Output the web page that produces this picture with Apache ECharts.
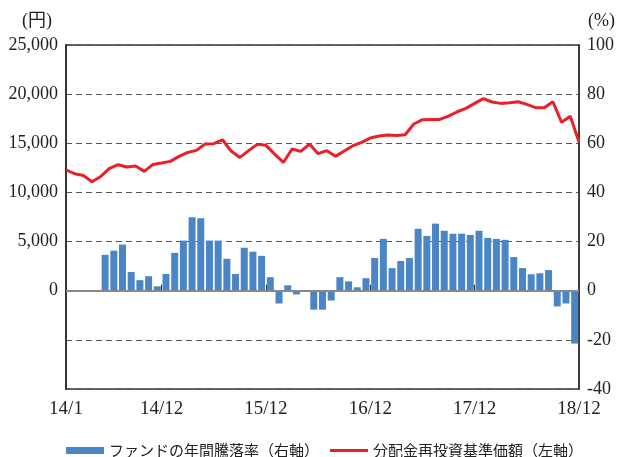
<!DOCTYPE html>
<html>
<head>
<meta charset="utf-8">
<script src="https://cdn.jsdelivr.net/npm/echarts@6/dist/echarts.min.js"></script>
<style>
html,body{margin:0;padding:0;background:#fff;}
#c{width:619px;height:457px;}
</style>
</head>
<body>
<div id="c"></div>
<script>
// Months 2014/1 .. 2018/12 (line axis categories)
const years = ['14','15','16','17','18'];
const months = [];
years.forEach(y => { for (let m = 1; m <= 12; m++) months.push(y + '/' + m); });
// Bar axis categories: 14/2 .. 18/12
const barMonths = months.slice(1);
// Tick labels shown on the x axis
const tickLabels = ['14/1', '14/12', '15/12', '16/12', '17/12', '18/12'];

// 分配金再投資基準価額 (円), 14/1 .. 18/12
const navValues = [
  12300, 11900, 11730, 11090, 11630, 12440, 12820, 12580, 12680, 12140, 12850, 12990,
  13160, 13670, 14070, 14280, 14920, 14960, 15360, 14210, 13560, 14250, 14890, 14790,
  13900, 13050, 14420, 14180, 14920, 13940, 14250, 13670, 14210, 14750, 15090, 15530,
  15740, 15840, 15800, 15870, 16960, 17400, 17430, 17430, 17770, 18210, 18550, 19060,
  19540, 19200, 19060, 19130, 19230, 18960, 18620, 18620, 19230, 17130, 17740, 15130
];

// ファンドの年間騰落率 (%), 14/6 .. 18/12
const fundReturn = [
  14.6, 16.3, 18.8, 7.6, 4.3, 5.9, 1.8, 6.8, 15.4, 20.4,
  29.9, 29.5, 20.4, 20.4, 13.0, 6.8, 17.5, 15.9, 14.2, 5.5,
  -5.2, 2.2, -1.5, -0.4, -7.7, -7.7, -4.0, 5.5, 3.8, 1.4,
  5.1, 13.3, 21.1, 9.2, 12.1, 13.3, 25.2, 22.3, 27.3, 24.4,
  23.2, 23.2, 22.7, 24.4, 21.5, 21.1, 20.7, 13.7, 9.2, 6.7,
  7.1, 8.4, -6.4, -5.2, -21.5
];
const fundStart = '14/6';

const barData = barMonths.map(m => null);
const startIdx = barMonths.indexOf(fundStart);
fundReturn.forEach((v, i) => { barData[startIdx + i] = v; });

const serif = "'Liberation Serif', 'DejaVu Serif', serif";
const cjk = "'Noto Sans CJK JP', sans-serif";

const chart = echarts.init(document.getElementById('c'));
chart.setOption({
  animation: false,
  backgroundColor: '#fff',
  grid: { left: 66, right: 40, top: 45, bottom: 68, show: true, borderColor: '#333', borderWidth: 1.5, backgroundColor: 'transparent' },
  graphic: [
    { type: 'text', left: 22, top: 12, style: { text: '(円)', font: "18px 'Liberation Serif', 'Noto Sans CJK JP'", fill: '#222' } },
    { type: 'text', left: 588, top: 12, style: { text: '(%)', font: "18px 'Liberation Serif', serif", fill: '#222' } }
  ],
  legend: [
    {
      left: 61, top: 438, itemWidth: 38, itemHeight: 7, itemGap: 4,
      data: [{ name: 'ファンドの年間騰落率（右軸）', icon: 'rect' }],
      textStyle: { fontFamily: cjk, fontSize: 15, color: '#222' }
    },
    {
      left: 325, top: 438, itemWidth: 38, itemHeight: 3, itemGap: 4,
      data: [{ name: '分配金再投資基準価額（左軸）', icon: 'rect', itemStyle: { color: '#e8202a' } }],
      textStyle: { fontFamily: cjk, fontSize: 15, color: '#222' }
    }
  ],
  xAxis: [
    {
      type: 'category', data: months, boundaryGap: false,
      axisLine: { lineStyle: { color: '#333', width: 1.5 } },
      axisTick: { show: true, inside: true, length: 6, lineStyle: { color: '#333' },
        interval: (i, v) => tickLabels.indexOf(v) > 0 && tickLabels.indexOf(v) < tickLabels.length - 1 },
      axisLabel: { interval: (i, v) => tickLabels.indexOf(v) >= 0, fontFamily: serif, fontSize: 19, color: '#222', margin: 11 },
      splitLine: { show: false }
    },
    {
      type: 'category', data: barMonths, boundaryGap: true, show: false
    }
  ],
  yAxis: [
    {
      type: 'value', min: -10000, max: 25000, interval: 5000,
      axisLine: { show: true, lineStyle: { color: '#333', width: 2 } },
      axisTick: { show: false },
      axisLabel: { fontFamily: serif, fontSize: 18, color: '#222', margin: 8,
        formatter: v => v < 0 ? '' : v.toLocaleString('en-US') },
      splitLine: { show: true, lineStyle: { color: '#555', width: 1.2, type: [6, 4] } }
    },
    {
      type: 'value', min: -40, max: 100, interval: 20, position: 'right',
      axisLine: { show: true, lineStyle: { color: '#333', width: 1.5 } },
      axisTick: { show: false },
      axisLabel: { fontFamily: serif, fontSize: 18, color: '#222', margin: 8 },
      splitLine: { show: false }
    }
  ],
  series: [
    {
      name: 'ファンドの年間騰落率（右軸）', type: 'bar', xAxisIndex: 1, yAxisIndex: 1,
      data: barData, barWidth: 7, itemStyle: { color: '#4a86c6' }, z: 2,
      markLine: { silent: true, symbol: 'none', label: { show: false },
        lineStyle: { color: '#888', width: 2, type: 'solid' }, data: [{ yAxis: 0 }] }
    },
    {
      name: '分配金再投資基準価額（左軸）', type: 'line', xAxisIndex: 0, yAxisIndex: 0,
      data: navValues, symbol: 'none', showSymbol: false,
      lineStyle: { color: '#e8202a', width: 3 }, itemStyle: { color: '#e8202a' }, z: 5
    }
  ]
});
</script>
</body>
</html>
